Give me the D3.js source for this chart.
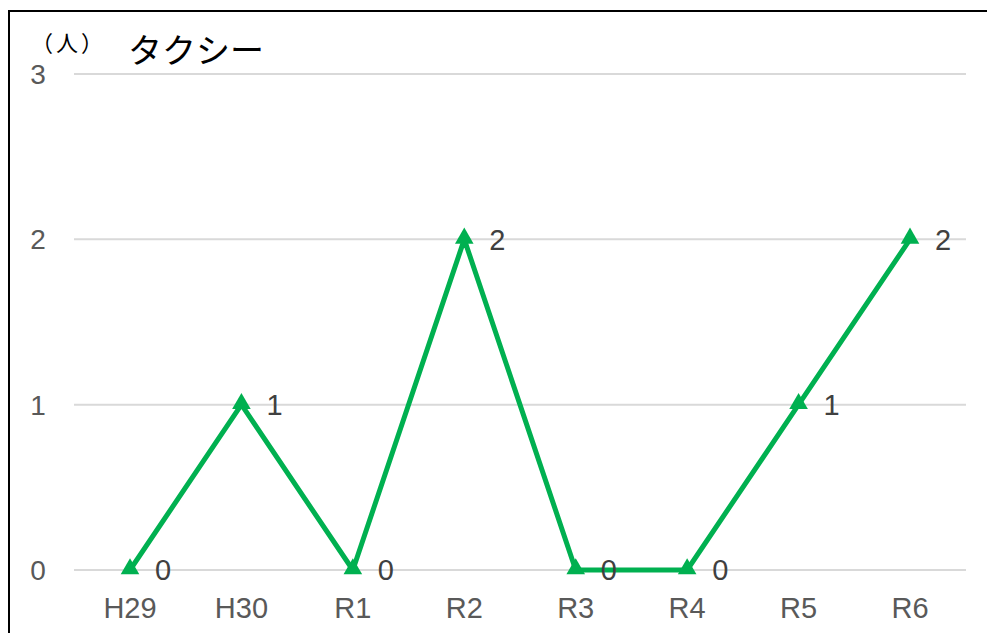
<!DOCTYPE html>
<html><head><meta charset="utf-8">
<script src="https://cdn.jsdelivr.net/npm/d3@7"></script>
<style>body{margin:0;background:#fff}svg{display:block}.cjk{text-spacing-trim:space-all}</style>
</head><body>
<svg id="c" width="987" height="633"></svg>
<script>
const categories = ["H29","H30","R1","R2","R3","R4","R5","R6"];
const values = [0,1,0,2,0,0,1,2];
const yTicks = [0,1,2,3];
const title = "タクシー";
const unit = "（人）";

const svg = d3.select("#c");
svg.append("rect").attr("x",9).attr("y",11).attr("width",990).attr("height",640)
  .attr("fill","#fff").attr("stroke","#000").attr("stroke-width",2);

const x = d3.scalePoint().domain(categories).range([130,910]);
const y = d3.scaleLinear().domain([0,3]).range([570,74]);
const FONT = "Liberation Sans, Arial, sans-serif";

const g = svg.append("g");
g.selectAll("line.grid").data(yTicks).join("line").attr("class","grid")
  .attr("x1",74).attr("x2",966).attr("y1",d=>y(d)).attr("y2",d=>y(d))
  .attr("stroke","#d9d9d9").attr("stroke-width",2);

g.selectAll("text.yt").data(yTicks).join("text").attr("class","yt")
  .attr("x",38).attr("y",d=>y(d)).attr("dy","0.36em").attr("text-anchor","middle")
  .attr("font-family",FONT).attr("font-size",28).attr("fill","#595959")
  .text(d=>d);

g.selectAll("text.xt").data(categories).join("text").attr("class","xt")
  .attr("x",d=>x(d)).attr("y",618).attr("text-anchor","middle")
  .attr("font-family",FONT).attr("font-size",29).attr("fill","#595959")
  .text(d=>d);

const line = d3.line().x((d,i)=>x(categories[i])).y(d=>y(d));
g.append("path").datum(values).attr("d",line).attr("fill","none")
  .attr("stroke","#00b050").attr("stroke-width",5).attr("stroke-linejoin","round");

const tri = d3.symbol().type(d3.symbolTriangle).size(150);
g.selectAll("path.m").data(values).join("path").attr("class","m")
  .attr("d",tri).attr("transform",(d,i)=>`translate(${x(categories[i])},${y(d)-1})`)
  .attr("fill","#00b050");

g.selectAll("text.dl").data(values).join("text").attr("class","dl")
  .attr("x",(d,i)=>x(categories[i])+25).attr("y",d=>y(d)).attr("dy","0.36em")
  .attr("font-family",FONT).attr("font-size",29).attr("fill","#404040")
  .text(d=>d);

svg.append("text").attr("class","cjk").attr("x",31).attr("y",51).attr("font-family","Noto Sans CJK JP, sans-serif")
  .attr("font-size",22).attr("letter-spacing",3).attr("fill","#000").text(unit);
svg.append("text").attr("class","cjk").attr("x",128).attr("y",63).attr("font-family","Noto Sans CJK JP, sans-serif")
  .attr("font-size",34).attr("fill","#000").text(title);
</script>
</body></html>
